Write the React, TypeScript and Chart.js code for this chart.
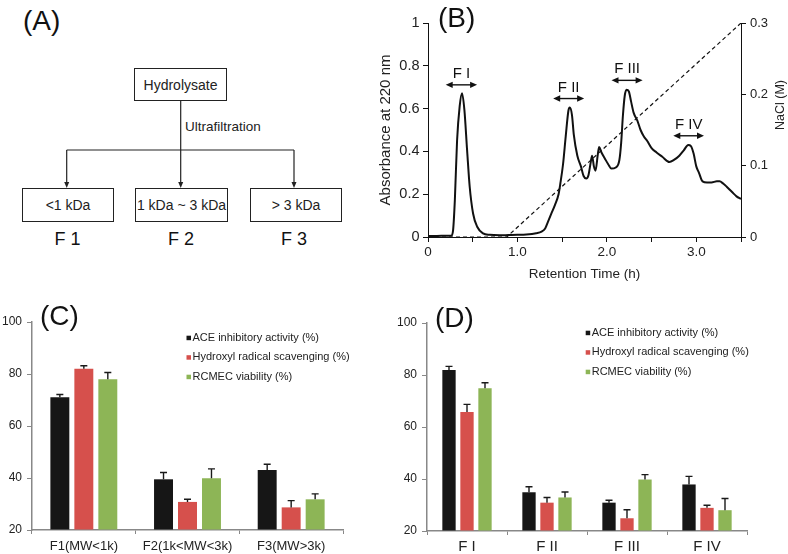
import React, { useEffect, useRef } from 'react';
import { Chart, registerables } from 'chart.js';

Chart.register(...registerables);

const FONT = 'Arial, "Liberation Sans", Helvetica, sans-serif';
Chart.defaults.font.family = FONT;
Chart.defaults.color = '#222';

// ---------- Panel B: chromatogram ----------
const retentionTime = [0, 0.1, 0.2, 0.26, 0.28, 0.3, 0.325, 0.354, 0.38, 0.407, 0.437, 0.466, 0.504, 0.55, 0.616, 0.69, 0.8, 0.9, 1.0, 1.1, 1.21, 1.27, 1.31, 1.34, 1.38, 1.42, 1.46, 1.48, 1.51, 1.54, 1.57, 1.585, 1.61, 1.63, 1.67, 1.71, 1.74, 1.77, 1.795, 1.82, 1.835, 1.855, 1.873, 1.9, 1.914, 1.94, 1.98, 2.015, 2.05, 2.1, 2.14, 2.16, 2.18, 2.2, 2.22, 2.246, 2.27, 2.3, 2.34, 2.377, 2.414, 2.45, 2.5, 2.556, 2.62, 2.7, 2.75, 2.81, 2.86, 2.91, 2.94, 2.97, 3.0, 3.03, 3.07, 3.12, 3.17, 3.23, 3.26, 3.3, 3.34, 3.4, 3.45, 3.5];
const absorbance = [0.005, 0.005, 0.006, 0.006, 0.03, 0.17, 0.45, 0.61, 0.672, 0.594, 0.407, 0.236, 0.11, 0.048, 0.017, 0.01, 0.008, 0.009, 0.01, 0.012, 0.018, 0.025, 0.04, 0.07, 0.11, 0.15, 0.2, 0.25, 0.34, 0.47, 0.59, 0.605, 0.57, 0.48, 0.38, 0.33, 0.285, 0.273, 0.29, 0.35, 0.38, 0.33, 0.31, 0.39, 0.42, 0.395, 0.365, 0.34, 0.32, 0.325, 0.36, 0.44, 0.57, 0.66, 0.688, 0.68, 0.635, 0.58, 0.545, 0.5, 0.47, 0.45, 0.415, 0.395, 0.375, 0.35, 0.36, 0.38, 0.405, 0.43, 0.425, 0.39, 0.33, 0.3, 0.26, 0.255, 0.255, 0.26, 0.26, 0.25, 0.235, 0.21, 0.19, 0.178];
const naclTime = [0, 0.88, 3.5];
const naclConc = [0, 0, 0.3];
const peakNames = ['F I', 'F II', 'F III', 'F IV'];
const peakFrom = [0.198, 1.4, 2.052, 2.743];
const peakTo = [0.549, 1.746, 2.4, 3.086];
const peakLevel = [0.711, 0.647, 0.732, 0.473];

// ---------- Panels C & D ----------
const seriesNames = ['ACE inhibitory activity (%)', 'Hydroxyl radical scavenging (%)', 'RCMEC viability (%)'];
const seriesColors = ['#161616', '#d6504c', '#8db556'];

const ufCategories = ['F1(MW<1k)', 'F2(1k<MW<3k)', 'F3(MW>3k)'];
const ufAce = [71.1, 39.5, 43.1];
const ufHydroxyl = [82.0, 30.8, 28.7];
const ufRcmec = [78.0, 39.9, 31.8];
const ufAceErr = [1.0, 2.6, 2.2];
const ufHydroxylErr = [1.2, 1.0, 2.6];
const ufRcmecErr = [2.6, 3.6, 2.1];

const ieCategories = ['F I', 'F II', 'F III', 'F IV'];
const ieAce = [81.9, 34.9, 30.9, 37.9];
const ieHydroxyl = [65.8, 30.9, 24.9, 28.9];
const ieRcmec = [74.9, 32.9, 39.8, 28.0];
const ieAceErr = [1.4, 2.1, 0.9, 3.1];
const ieHydroxylErr = [2.9, 2.0, 3.3, 1.0];
const ieRcmecErr = [2.1, 2.1, 1.9, 4.5];

const yPercentTicks = [20, 40, 60, 80, 100];

function fmtTenth(v: number) {
  const r = Math.round(v * 10) / 10;
  if (r === 0) return '0';
  if (r === 1) return '1';
  return r.toFixed(1);
}

const peakPlugin = {
  id: 'peakMarks',
  afterDatasetsDraw(chart: any) {
    const { ctx, scales } = chart;
    const xs = scales.x;
    const ys = scales.y;
    ctx.save();
    ctx.strokeStyle = '#111';
    ctx.fillStyle = '#111';
    ctx.lineWidth = 1.4;
    peakNames.forEach((name, i) => {
      const x1 = xs.getPixelForValue(peakFrom[i]);
      const x2 = xs.getPixelForValue(peakTo[i]);
      const yy = ys.getPixelForValue(peakLevel[i]);
      const head = 7;
      const hw = 3.2;
      ctx.beginPath();
      ctx.moveTo(x1 + head - 1, yy);
      ctx.lineTo(x2 - head + 1, yy);
      ctx.stroke();
      ctx.beginPath();
      ctx.moveTo(x1, yy);
      ctx.lineTo(x1 + head, yy - hw);
      ctx.lineTo(x1 + head, yy + hw);
      ctx.closePath();
      ctx.fill();
      ctx.beginPath();
      ctx.moveTo(x2, yy);
      ctx.lineTo(x2 - head, yy - hw);
      ctx.lineTo(x2 - head, yy + hw);
      ctx.closePath();
      ctx.fill();
      ctx.font = `15px ${FONT}`;
      ctx.textAlign = 'center';
      ctx.textBaseline = 'alphabetic';
      ctx.fillText(name, (x1 + x2) / 2, yy - 7);
    });
    // right axis title, reading bottom-to-top
    const r = scales.y2;
    ctx.translate(r.right - 7, 105);
    ctx.rotate(-Math.PI / 2);
    ctx.font = `12.5px ${FONT}`;
    ctx.textAlign = 'center';
    ctx.textBaseline = 'middle';
    ctx.fillStyle = '#222';
    ctx.fillText('NaCl (M)', 0, 0);
    ctx.restore();
  },
};

function makeBarPlugin(errors: number[][], legendX: number, legendY: number, legendStep: number) {
  return {
    id: 'errAndLegend',
    afterDatasetsDraw(chart: any) {
      const { ctx } = chart;
      const ys = chart.scales.y;
      ctx.save();
      ctx.strokeStyle = '#1a1a1a';
      ctx.lineWidth = 1.4;
      chart.data.datasets.forEach((ds: any, di: number) => {
        const meta = chart.getDatasetMeta(di);
        meta.data.forEach((bar: any, i: number) => {
          const v = ds.data[i];
          const top = ys.getPixelForValue(v + errors[di][i]);
          const cx = bar.x;
          ctx.beginPath();
          ctx.moveTo(cx, bar.y);
          ctx.lineTo(cx, top);
          ctx.moveTo(cx - 3.5, top);
          ctx.lineTo(cx + 3.5, top);
          ctx.stroke();
        });
      });
      ctx.font = `11px ${FONT}`;
      ctx.textAlign = 'left';
      ctx.textBaseline = 'middle';
      chart.data.datasets.forEach((ds: any, di: number) => {
        const yy = legendY + di * legendStep;
        ctx.fillStyle = seriesColors[di];
        ctx.fillRect(legendX, yy - 2, 4.5, 4.5);
        ctx.fillStyle = '#222';
        ctx.fillText(ds.label, legendX + 6, yy);
      });
      ctx.restore();
    },
  };
}

function ChromChart() {
  const ref = useRef<HTMLCanvasElement>(null);
  useEffect(() => {
    const chart = new Chart(ref.current as HTMLCanvasElement, {
      type: 'line',
      data: {
        datasets: [
          {
            label: 'Absorbance',
            data: retentionTime.map((t, i) => ({ x: t, y: absorbance[i] })),
            borderColor: '#111',
            borderWidth: 2,
            pointRadius: 0,
            cubicInterpolationMode: 'monotone',
            yAxisID: 'y',
          },
          {
            label: 'NaCl',
            data: naclTime.map((t, i) => ({ x: t, y: naclConc[i] })),
            borderColor: '#111',
            borderWidth: 1.2,
            borderDash: [4, 3],
            pointRadius: 0,
            tension: 0,
            yAxisID: 'y2',
          },
        ],
      } as any,
      options: {
        animation: false,
        responsive: false,
        layout: { padding: { top: 23, left: 0, right: 0, bottom: 0 } },
        plugins: { legend: { display: false }, tooltip: { enabled: false } },
        scales: {
          x: {
            type: 'linear',
            min: 0,
            max: 3.5,
            ticks: {
              stepSize: 0.5,
              autoSkip: false,
              maxRotation: 0,
              padding: 2,
              font: { size: 13.5 },
              callback: (v: any) => (Number.isInteger(v) ? (v === 0 ? '0' : Number(v).toFixed(1)) : ''),
            },
            grid: { drawOnChartArea: false, tickLength: 5, color: '#111' },
            border: { color: '#111', width: 1 },
            title: { display: true, text: 'Retention Time (h)', font: { size: 13.5 }, padding: { top: 0, bottom: 8 } },
            afterFit: (s: any) => { s.height = 53; },
          },
          y: {
            position: 'left',
            min: 0,
            max: 1,
            ticks: { stepSize: 0.2, padding: 3.5, font: { size: 14.5 }, callback: (v: any) => fmtTenth(Number(v)) },
            grid: { drawOnChartArea: false, tickLength: 5, color: '#111' },
            border: { color: '#111', width: 1 },
            title: { display: true, text: 'Absorbance at 220 nm', font: { size: 15 }, padding: { top: 7, bottom: 0 } },
            afterFit: (s: any) => { s.width = 58; },
          },
          y2: {
            position: 'right',
            min: 0,
            max: 0.3,
            ticks: { stepSize: 0.1, padding: 4, font: { size: 13 }, callback: (v: any) => fmtTenth(Number(v)) },
            grid: { drawOnChartArea: false, tickLength: 5, color: '#111' },
            border: { color: '#111', width: 1 },
            afterFit: (s: any) => { s.width = 47; },
          },
        },
      } as any,
      plugins: [peakPlugin],
    });
    return () => chart.destroy();
  }, []);
  return <canvas ref={ref} width={418} height={290} style={{ position: 'absolute', left: 370, top: 0, width: 418, height: 290 }} />;
}

type BarProps = {
  left: number;
  categories: string[];
  values: number[][];
  errors: number[][];
  padTop: number;
  padRight: number;
  yWidth: number;
  xHeight: number;
  catPct: number;
  barPct: number;
  xFont: number;
  xTl: [number, number];
  legendX: number;
  legendY: number;
};

function BarPanel(p: BarProps) {
  const ref = useRef<HTMLCanvasElement>(null);
  useEffect(() => {
    const chart = new Chart(ref.current as HTMLCanvasElement, {
      type: 'bar',
      data: {
        labels: p.categories,
        datasets: seriesNames.map((name, di) => ({
          label: name,
          data: p.values[di],
          backgroundColor: seriesColors[di],
          base: 20,
          categoryPercentage: p.catPct,
          barPercentage: p.barPct,
        })),
      } as any,
      options: {
        animation: false,
        responsive: false,
        layout: { padding: { top: p.padTop, left: 0, right: p.padRight, bottom: 0 } },
        plugins: { legend: { display: false }, tooltip: { enabled: false } },
        scales: {
          x: {
            ticks: { padding: p.xTl[1], font: { size: p.xFont }, color: '#222', maxRotation: 0, autoSkip: false },
            grid: { drawOnChartArea: false, tickLength: p.xTl[0], color: '#888', offset: true },
            border: { color: '#888', width: 1.5 },
            afterFit: (s: any) => { s.height = p.xHeight; },
          },
          y: {
            min: 20,
            max: 100,
            afterBuildTicks: (s: any) => { s.ticks = yPercentTicks.map((v) => ({ value: v })); },
            ticks: { padding: 5, font: { size: 12 }, color: '#222' },
            grid: { drawOnChartArea: false, tickLength: 5, color: '#888' },
            border: { color: '#888', width: 1.5 },
            afterFit: (s: any) => { s.width = p.yWidth; },
          },
        },
      } as any,
      plugins: [makeBarPlugin(p.errors, p.legendX, p.legendY, 19.5)],
    });
    return () => chart.destroy();
  }, []);
  return <canvas ref={ref} width={394} height={264} style={{ position: 'absolute', left: p.left, top: 290, width: 394, height: 264 }} />;
}

const boxStyle: React.CSSProperties = {
  position: 'absolute',
  boxSizing: 'border-box',
  border: '1.3px solid #222',
  display: 'flex',
  alignItems: 'center',
  justifyContent: 'center',
  fontSize: 14,
  fontFamily: FONT,
  color: '#222',
  whiteSpace: 'nowrap',
  background: '#fff',
};

const panelLabel: React.CSSProperties = {
  position: 'absolute',
  fontFamily: FONT,
  fontSize: 28,
  lineHeight: '28px',
  color: '#111',
};

function Flowchart() {
  const arrow = (x: number) => `${x - 2.5},182 ${x + 2.5},182 ${x},188`;
  const fLabel = (x: number, t: string) => (
    <div style={{ position: 'absolute', left: x - 40, top: 230, width: 80, textAlign: 'center', fontFamily: FONT, fontSize: 18, lineHeight: '18px', color: '#111' }}>{t}</div>
  );
  return (
    <>
      <svg width={370} height={290} style={{ position: 'absolute', left: 0, top: 0 }}>
        <g stroke="#222" strokeWidth={1.2} fill="none">
          <line x1={180.7} y1={101} x2={180.7} y2={183} />
          <line x1={66.7} y1={150} x2={294} y2={150} />
          <line x1={66.7} y1={150} x2={66.7} y2={183} />
          <line x1={294} y1={150} x2={294} y2={183} />
        </g>
        <g fill="#222">
          <polygon points={arrow(66.7)} />
          <polygon points={arrow(180.7)} />
          <polygon points={arrow(294)} />
        </g>
      </svg>
      <div style={{ ...boxStyle, left: 134, top: 68, width: 93, height: 33 }}>Hydrolysate</div>
      <div style={{ position: 'absolute', left: 185, top: 119, fontFamily: FONT, fontSize: 13.5, lineHeight: '16px', color: '#222' }}>Ultrafiltration</div>
      <div style={{ ...boxStyle, left: 22, top: 188, width: 92, height: 34 }}>&lt;1 kDa</div>
      <div style={{ ...boxStyle, left: 135, top: 188, width: 93, height: 34 }}>1 kDa ~ 3 kDa</div>
      <div style={{ ...boxStyle, left: 250, top: 188, width: 92, height: 34 }}>&gt; 3 kDa</div>
      {fLabel(67.5, 'F 1')}
      {fLabel(181, 'F 2')}
      {fLabel(294, 'F 3')}
    </>
  );
}

export default function App() {
  return (
    <div style={{ position: 'absolute', left: 0, top: 0, width: 788, height: 554, background: '#fff', overflow: 'hidden' }}>
      <Flowchart />
      <ChromChart />
      <BarPanel
        left={0}
        categories={ufCategories}
        values={[ufAce, ufHydroxyl, ufRcmec]}
        errors={[ufAceErr, ufHydroxylErr, ufRcmecErr]}
        padTop={32}
        padRight={51}
        yWidth={32}
        xHeight={24}
        catPct={0.694}
        barPct={0.79}
        xFont={13}
        xTl={[4, 5]}
        legendX={186.5}
        legendY={47.7}
      />
      <BarPanel
        left={394}
        categories={ieCategories}
        values={[ieAce, ieHydroxyl, ieRcmec]}
        errors={[ieAceErr, ieHydroxylErr, ieRcmecErr]}
        padTop={33}
        padRight={41}
        yWidth={33}
        xHeight={23}
        catPct={0.675}
        barPct={0.74}
        xFont={15}
        xTl={[4, 3]}
        legendX={191.7}
        legendY={42.7}
      />
      <div style={{ ...panelLabel, left: 23, top: 7 }}>(A)</div>
      <div style={{ ...panelLabel, left: 438, top: 4 }}>(B)</div>
      <div style={{ ...panelLabel, left: 40, top: 302 }}>(C)</div>
      <div style={{ ...panelLabel, left: 435, top: 304 }}>(D)</div>
    </div>
  );
}
